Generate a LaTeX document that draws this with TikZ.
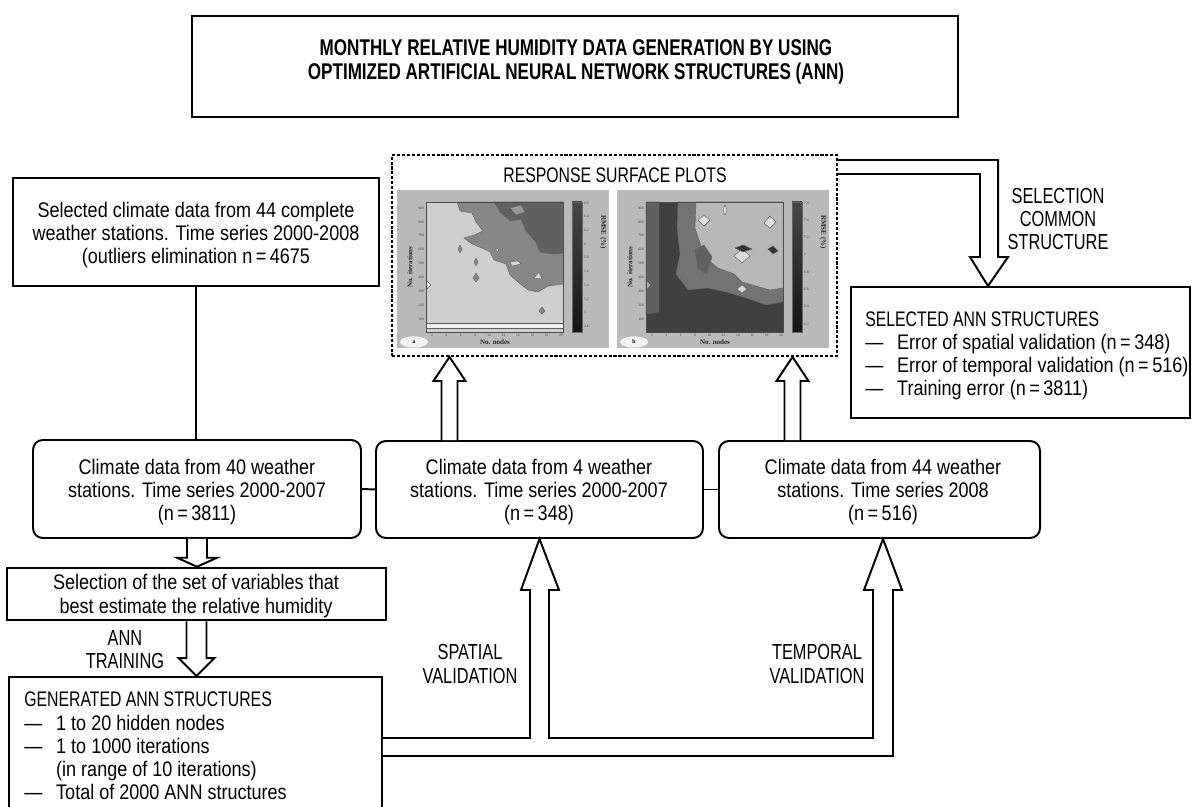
\documentclass[tikz,border=0pt]{standalone}
\usepackage{fontspec}
\setmainfont{Liberation Sans}[FakeStretch=0.855]
\newfontfamily\capsfont{Liberation Sans}[FakeStretch=0.75]
\newfontfamily\plotfont{Liberation Serif}
\usepackage{tikz}
\usetikzlibrary{calc,fit,shapes.geometric}
\tikzset{>=latex}

\newcommand{\itm}{\makebox[22.7pt][l]{---}}
% hollow vertical block arrow: base, tip, shaft half width, head half width, head length
\newcommand{\blockv}[5]{%
	\draw[hollow] ($(#1)+(-#3,0)$) -- ($(#1|-#2)+(-#3,#5)$) -- ($(#1|-#2)+(-#4,#5)$)
		-- (#1|-#2) -- ($(#1|-#2)+(#4,#5)$) -- ($(#1|-#2)+(#3,#5)$) -- ($(#1)+(#3,0)$);}

\begin{document}
\begin{tikzpicture}[x=0.025cm,y=-0.025cm,font=\fontsize{15}{16.5}\selectfont,
	tbox/.style={draw,fill=white,line width=1.4pt,inner sep=0pt},
	rbox/.style={tbox,rounded corners=7pt},
	txt/.style={align=center,inner sep=0pt},
	hollow/.style={draw,fill=white,line width=1.4pt,line join=miter},
	caps/.style={font=\capsfont\fontsize{15.5}{16.5}\selectfont,align=center,inner sep=0pt},
	listtxt/.style={anchor=west,align=left,inner sep=0pt},
	ticklab/.style={font=\plotfont\fontsize{2.6}{3}\selectfont,text=black!75,inner sep=0.6pt},
	axlab/.style={font=\plotfont\bfseries\fontsize{5}{6}\selectfont,text=black!85,inner sep=0pt},
	contour/.style={draw=black!62,line width=0.3pt}]
	\useasboundingbox (0,0) rectangle (1195,807);

	% title
	\node[tbox,line width=1.8pt,fit={(192,16) (958,117)}] (title) {};
	\node[caps,font=\capsfont\bfseries\fontsize{16.2}{16.5}\selectfont] (titletxt) at (576,62)
		{MONTHLY RELATIVE HUMIDITY DATA GENERATION BY USING\\OPTIMIZED ARTIFICIAL NEURAL NETWORK STRUCTURES (ANN)};

	% data boxes
	\node[tbox,line width=2.1pt,fit={(13,178) (379,286)}] (in44) {};
	\node[txt] (in44txt) at (196,235) {Selected climate data from 44 complete\\weather stations. Time series 2000-2008\\(outliers elimination n\,=\,4675};
	\node[rbox,fit={(33,440) (361,538)}] (c40) {};
	\node[txt] (c40txt) at (197,492) {Climate data from 40 weather\\stations. Time series 2000-2007\\(n\,=\,3811)};
	\node[rbox,fit={(376,441) (703,538)}] (c4) {};
	\node[txt] (c4txt) at (539,492) {Climate data from 4 weather\\stations. Time series 2000-2007\\(n\,=\,348)};
	\node[rbox,fit={(719,441) (1040,538)}] (c44) {};
	\node[txt] (c44txt) at (883,492) {Climate data from 44 weather\\stations. Time series 2008\\(n\,=\,516)};
	\node[tbox,line width=1.8pt,fit={(7,568) (386,620)}] (varsel) {};
	\node[txt] (varseltxt) at (196,596) {Selection of the set of variables that\\best estimate the relative humidity};
	\node[tbox,fit={(9,677) (382,815)}] (gen) {};
	\node[listtxt] (gentxt) at (24,746) {{\capsfont GENERATED ANN STRUCTURES}\\\itm 1 to 20 hidden nodes\\\itm 1 to 1000 iterations\\\hspace*{22.7pt}(in range of 10 iterations)\\\itm Total of 2000 ANN structures};
	\node[tbox,fit={(851,287) (1190,418)}] (sel) {};
	\node[listtxt] (seltxt) at (865,356) {{\capsfont SELECTED ANN STRUCTURES}\\\itm Error of spatial validation (n\,=\,348)\\\itm Error of temporal validation (n\,=\,516)\\\itm Training error (n\,=\,3811)};

	% response surface plots
	\node[draw,line width=1.4pt,dash pattern=on 2.2pt off 1.3pt,inner sep=0pt,fit={(392,155) (837,356)}] (pl) {};
	\node[caps,font=\capsfont\fontsize{15}{16}\selectfont] (pltitle) at (615,175) {RESPONSE SURFACE PLOTS};
	\foreach \px/\lab in {0/a,220/b}{
		\begin{scope}[shift={(\px,0)}]
			\fill[black!27] (397,190) rectangle (609,348);
			\shade[top color=black!72,middle color=white,bottom color=black!92] (572,202) rectangle (582,332);
			\draw[black!60,line width=0.3pt] (572,202) rectangle (582,332);
			\foreach \t [count=\i from 0] in {900,800,...,100}
				\node[ticklab,anchor=east] (yt\lab\i) at (425,208+13.9*\i) {\t};
			\foreach \t [count=\i from 0] in {2,4,...,20}
				\node[ticklab,anchor=north] (xt\lab\i) at (432+14.33*\i,332.5) {\t};
			\node[axlab,rotate=90] (yl\lab) at (410,267) {No. iterations};
			\node[axlab] (xl\lab) at (495,342) {No. nodes};
			\node[axlab,rotate=-90] (cl\lab) at (603,232) {RMSE (\%)};
			\node[ellipse,fill=black!5,minimum width=20pt,minimum height=8pt,inner sep=0pt,
				font=\plotfont\bfseries\fontsize{4}{4}\selectfont] (tag\lab) at (414,342) {\lab};
		\end{scope}
	}
	\foreach \v [count=\i from 0] in {6.6,6.4,6.2,6,5.8,5.6,5.4,5.2,5,4.8}
		\node[ticklab,anchor=west] (ca\i) at (583,203+13.7*\i) {\v};
	\foreach \v [count=\i from 0] in {7.6,7.4,7.2,7,6.8,6.6,6.4,6.2}
		\node[ticklab,anchor=west] (cb\i) at (803,203+17.3*\i) {\v};

	% plot a
	\begin{scope}[shift={(426,202)}]
		\fill[black!19] (0,0) rectangle (137,130);
		\filldraw[contour,fill=black!47] (31,0) -- (34,9) -- (46,11) -- (50,20) -- (57,29) -- (48,33) -- (38,36) -- (46,42) -- (56,46) -- (64,50) -- (68,58) -- (80,62) -- (84,73) -- (92,80) -- (102,88) -- (112,90) -- (122,84) -- (137,82) -- (137,0) -- cycle;
		\filldraw[contour,fill=black!62] (68,0) -- (74,10) -- (84,19) -- (95,17) -- (100,29) -- (110,40) -- (114,50) -- (126,52) -- (137,51) -- (137,0) -- cycle;
		\filldraw[contour,fill=black!40] (84,6) -- (95,3) -- (99,10) -- (90,13) -- cycle;
		\filldraw[contour,fill=black!47] (34,43) -- (36,47) -- (34,51) -- (32,47) -- cycle;
		\filldraw[contour,fill=black!47] (50,56) -- (52,60) -- (50,64) -- (48,60) -- cycle;
		\filldraw[contour,fill=black!47] (50,71) -- (53,76) -- (50,80) -- (47,76) -- cycle;
		\filldraw[contour,fill=black!47] (116,105) -- (119,109) -- (116,112) -- (113,109) -- cycle;
		\filldraw[contour,fill=black!8] (71,48) circle (1.1pt);
		\filldraw[contour,fill=black!15] (84,60) -- (92,59) -- (95,62) -- (86,64) -- cycle;
		\filldraw[contour,fill=black!15] (108,76) -- (113,70) -- (116,77) -- cycle;
		\filldraw[contour,fill=black!8] (0,78) -- (5,83) -- (0,88) -- cycle;
		\filldraw[contour,fill=black!6] (0,121) -- (137,121) -- (137,126) -- (0,126) -- cycle;
		\draw[black!70,line width=0.5pt] (0,0) rectangle (137,130);
	\end{scope}

	% plot b
	\begin{scope}[shift={(646,202)}]
		\fill[black!75] (0,0) rectangle (137,130);
		\filldraw[contour,fill=black!62] (0,0) -- (13,0) -- (13,110) -- (0,112) -- cycle;
		\filldraw[contour,fill=black!55] (32,0) -- (137,0) -- (137,100) -- (120,103) -- (100,96) -- (80,90) -- (62,86) -- (42,88) -- (30,72) -- (34,52) -- (31,26) -- cycle;
		\filldraw[contour,fill=black!28] (50,0) -- (137,0) -- (137,86) -- (124,88) -- (110,84) -- (96,80) -- (88,72) -- (72,66) -- (62,58) -- (55,44) -- (49,26) -- cycle;
		\filldraw[contour,fill=black!12] (52,18) -- (58,13) -- (64,18) -- (58,24) -- cycle;
		\filldraw[contour,fill=black!10] (77,8) -- (79,3) -- (81,8) -- (79,13) -- cycle;
		\filldraw[contour,fill=black!12] (118,21) -- (124,14) -- (130,20) -- (124,26) -- cycle;
		\filldraw[contour,fill=black!14] (88,54) -- (96,47) -- (104,54) -- (96,61) -- cycle;
		\filldraw[contour,fill=black!15] (91,87) -- (96,83) -- (101,87) -- (96,91) -- cycle;
		\filldraw[contour,fill=black!80] (89,46) -- (97,43) -- (106,47) -- (97,50) -- cycle;
		\filldraw[contour,fill=black!62] (49,48) -- (58,43) -- (66,55) -- (60,72) -- (52,66) -- cycle;
		\filldraw[contour,fill=black!80] (122,47) -- (127,44) -- (132,49) -- (127,52) -- cycle;
		\filldraw[contour,fill=black!30] (0,78) -- (5,83) -- (0,88) -- cycle;
		\draw[black!70,line width=0.5pt] (0,0) rectangle (137,130);
	\end{scope}

	% connectors
	\draw[line width=1.4pt] (in44.south) -- (in44.south |- c40.north);
	\draw[line width=1.4pt] (c40.east) -- (c4.west);
	\draw[line width=1.4pt] (c4.east) -- (c44.west);

	\blockv{c40.south}{varsel.north}{10}{20}{-9}
	\blockv{varsel.south}{gen.north}{10}{18}{-18}
	\coordinate (ua) at ($(c4.north)+(-90,0)$);
	\coordinate (ub) at ($(c44.north)+(-87,0)$);
	\blockv{ua}{pl.south}{8}{16}{24}
	\blockv{ub}{pl.south}{8}{16}{24}

	\coordinate (tS) at (c4.south);
	\coordinate (tT) at ($(c44.south)+(3.5,0)$);
	\draw[hollow] (gen.east |- 0,738) -- (530,738) -- (530,590) -- (521,590) -- (tS) -- (559,590) -- (549,590) -- (549,738)
		-- (873,738) -- (873,590) -- (864,590) -- (tT) -- (902,590) -- (893,590) -- (893,756) -- (gen.east |- 0,756);

	\coordinate (tC) at ($(sel.north west)+(138,0)$);
	\draw[hollow] (pl.east |- 0,160) -- (998,160) -- (998,257) -- (1008,257) -- (tC) -- (970,257) -- (980,257) -- (980,174) -- (pl.east |- 0,174);

	% labels
	\node[caps] (scs) at (1058,219) {SELECTION\\COMMON\\STRUCTURE};
	\node[caps] (spv) at (470,664) {SPATIAL\\VALIDATION};
	\node[caps] (tmv) at (817,664) {TEMPORAL\\VALIDATION};
	\node[caps] (annt) at (125,650) {ANN\\TRAINING};
\end{tikzpicture}
\end{document}
